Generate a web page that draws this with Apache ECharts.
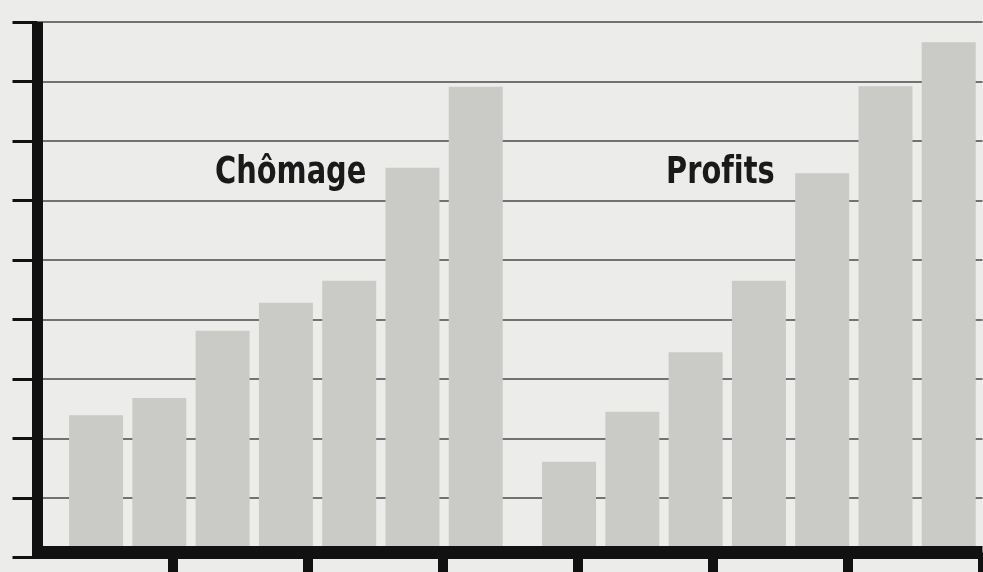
<!DOCTYPE html>
<html>
<head>
<meta charset="utf-8">
<title>Chômage et profits</title>
<script src="https://cdn.jsdelivr.net/npm/echarts@6/dist/echarts.min.js"></script>
<style>
html, body { margin: 0; padding: 0; background: #ececea; }
#chart { width: 983px; height: 572px; }
</style>
</head>
<body>
<div id="chart"></div>
<script>
// valeurs (unités de la grille)
var periodes = ['1', '2', '3', '4', '5', '6', '7'];
var chomage = [2.39, 2.68, 3.81, 4.28, 4.65, 6.55, 7.91];
var profits = [1.61, 2.45, 3.45, 4.65, 6.46, 7.92, 8.66];
var yTicks = [0, 1, 2, 3, 4, 5, 6, 7, 8, 9];
var cadreCols = ['', '', '', '', '', '', ''];

var chart = echarts.init(document.getElementById('chart'));

var TOP = 22, BOTTOM = 14.5;
var BG = '#ececea';
var barColor = '#cacac7';
var titreFont = 'bold 37px "DejaVu Sans Condensed", "Liberation Sans", sans-serif';

var option = {
	backgroundColor: BG,
	animation: false,
	grid: [
		{ left: 37.5, right: 0.5, top: TOP, bottom: BOTTOM },   // cadre
		{ left: 64.4, width: 443, top: TOP, bottom: BOTTOM },   // chômage
		{ left: 537.4, width: 443, top: TOP, bottom: BOTTOM }   // profits
	],
	xAxis: [
		{
			gridIndex: 0, type: 'category', data: cadreCols, z: 10,
			offset: -5,
			axisLine: { onZero: false, lineStyle: { color: '#111', width: 13, cap: 'butt' } },
			axisTick: { show: true, length: 20, interval: 0, lineStyle: { color: '#111', width: 10 } },
			axisLabel: { show: false }
		},
		{ gridIndex: 1, type: 'category', data: periodes, show: false },
		{ gridIndex: 2, type: 'category', data: periodes, show: false }
	],
	yAxis: [
		{
			gridIndex: 0, type: 'value', min: yTicks[0], max: yTicks[yTicks.length - 1], interval: 1, z: 0,
			axisLine: { show: true, lineStyle: { color: '#111', width: 11, cap: 'butt' } },
			axisTick: { show: true, length: 25, lineStyle: { color: '#111', width: 3 } },
			axisLabel: { show: false },
			splitLine: { show: true, lineStyle: { color: '#4a4a4a', width: 1.5 } }
		},
		{ gridIndex: 1, type: 'value', min: 0, max: 9, show: false, splitLine: { show: false } },
		{ gridIndex: 2, type: 'value', min: 0, max: 9, show: false, splitLine: { show: false } }
	],
	graphic: [
		{
			type: 'text', x: 215, y: 155, scaleX: 0.867, z: 20,
			style: { text: 'Chômage', fill: '#1a1a1a', font: titreFont }
		},
		{
			// \u200c : pas de ligature « fi »
			type: 'text', x: 666, y: 155, scaleX: 0.867, z: 20,
			style: { text: 'Prof\u200cits', fill: '#1a1a1a', font: titreFont }
		},
		{
			// coin bas gauche : pas de tiret sous l'axe vertical
			type: 'rect', shape: { x: 31, y: 559, width: 13, height: 14 }, z: 30,
			style: { fill: BG }
		}
	],
	series: [
		{
			name: 'Chômage', type: 'bar', xAxisIndex: 1, yAxisIndex: 1,
			barWidth: 54, data: chomage, itemStyle: { color: barColor }
		},
		{
			name: 'Profits', type: 'bar', xAxisIndex: 2, yAxisIndex: 2,
			barWidth: 54, data: profits, itemStyle: { color: barColor }
		}
	]
};

chart.setOption(option);
</script>
</body>
</html>
